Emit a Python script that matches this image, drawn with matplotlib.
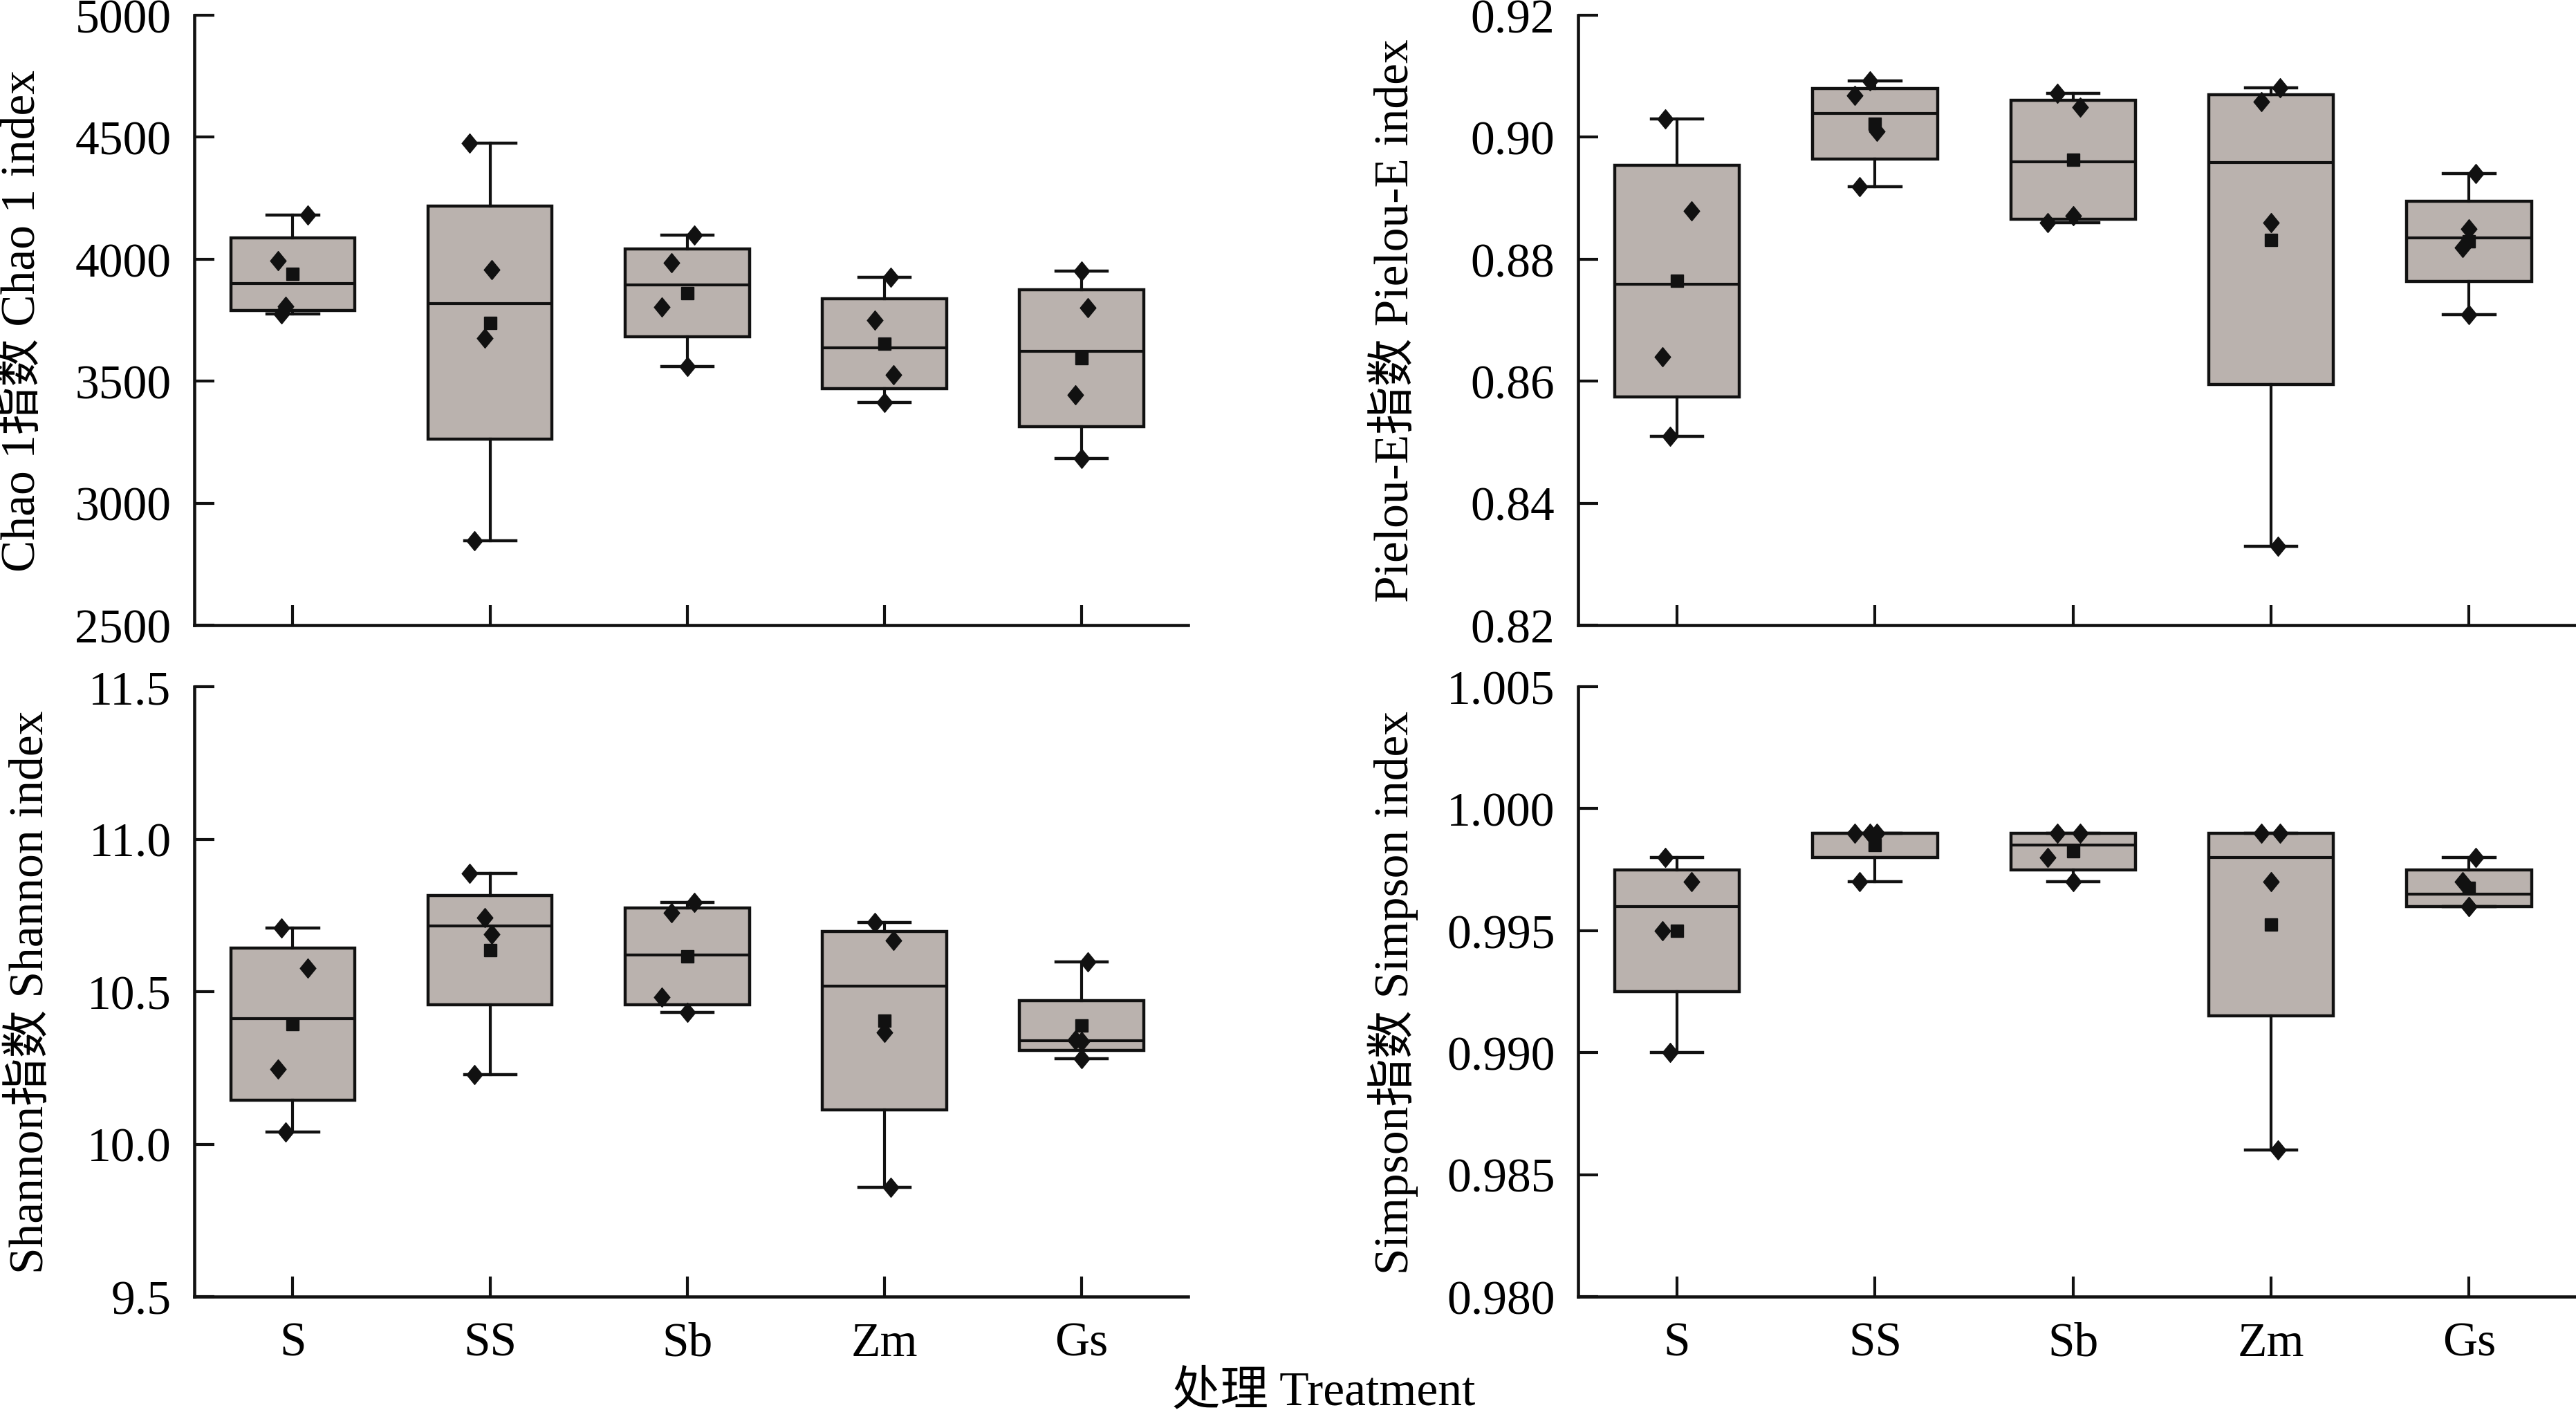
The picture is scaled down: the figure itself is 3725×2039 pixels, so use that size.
import numpy as np
import matplotlib.pyplot as plt
from matplotlib.path import Path

plt.rcParams['font.family'] = ['Liberation Serif', 'Noto Sans CJK SC']
plt.rcParams['font.size'] = 50

# Data: 4 samples per treatment, sample order fixed across indices
treatments = ['S', 'SS', 'Sb', 'Zm', 'Gs']

chao1 = [[3775, 4181, 3995, 3807],
         [3677, 4476, 3958, 2847],
         [3984, 4099, 3559, 3804],
         [3526, 3750, 3413, 3925],
         [3802, 3950, 3443, 3182]]

pielou = [[0.9030, 0.8879, 0.8640, 0.8509],
          [0.9092, 0.9068, 0.9009, 0.8919],
          [0.9072, 0.9049, 0.8871, 0.8860],
          [0.9081, 0.9058, 0.8860, 0.8329],
          [0.8940, 0.8850, 0.8819, 0.8709]]

shannon = [[10.708, 10.578, 10.247, 10.039],
           [10.742, 10.889, 10.688, 10.227],
           [10.758, 10.792, 10.433, 10.481],
           [10.669, 10.727, 10.367, 9.859],
           [10.598, 10.279, 10.341, 10.337]]

simpson = [[0.998, 0.997, 0.995, 0.990],
           [0.999, 0.999, 0.999, 0.997],
           [0.999, 0.999, 0.997, 0.998],
           [0.999, 0.999, 0.997, 0.986],
           [0.998, 0.996, 0.997, 0.996]]

# horizontal scatter offsets of the sample points (per sample)
jitter = [[-0.058, 0.074, -0.074, -0.037],
          [-0.025, -0.103, 0.008, -0.079],
          [-0.079, 0.037, 0.0, -0.128],
          [0.045, -0.05, 0.0, 0.033],
          [0.033, 0.0, -0.033, 0.0]]

panels = [
    (chao1, 'Chao 1指数 Chao 1 index', (2500, 5000), np.arange(2500, 5001, 500), '{:.0f}'),
    (pielou, 'Pielou-E指数 Pielou-E index', (0.82, 0.92), np.arange(0.82, 0.9201, 0.02), '{:.2f}'),
    (shannon, 'Shannon指数 Shannon index', (9.5, 11.5), np.arange(9.5, 11.501, 0.5), '{:.1f}'),
    (simpson, 'Simpson指数 Simpson index', (0.980, 1.005), np.arange(0.980, 1.00501, 0.005), '{:.3f}'),
]

# axes rectangles in figure fraction
rects = [(0.0754, 0.5564, 0.3858, 0.4323),
         (0.6126, 0.5564, 0.3874, 0.4323),
         (0.0754, 0.0804, 0.3858, 0.4323),
         (0.6126, 0.0804, 0.3874, 0.4323)]
label_x = [-0.150, -0.160, -0.142, -0.160]

diamond = Path([(0, 1), (0.82, 0), (0, -1), (-0.82, 0), (0, 1)],
               [Path.MOVETO, Path.LINETO, Path.LINETO, Path.LINETO, Path.CLOSEPOLY])


def hinge_stats(vals):
    v = np.sort(np.asarray(vals, dtype=float))
    half = len(v) // 2
    return dict(med=np.median(v), q1=np.median(v[:half]), q3=np.median(v[-half:]),
                whislo=v[0], whishi=v[-1], mean=np.mean(v), fliers=[])


fig = plt.figure(figsize=(37.25, 20.4), dpi=100)
pos = np.arange(1, len(treatments) + 1)

for i, (data, ylabel, ylim, yticks, fmt) in enumerate(panels):
    ax = fig.add_axes(rects[i])
    stats = [hinge_stats(d) for d in data]
    ax.bxp(stats, positions=pos, widths=0.63, capwidths=0.26, patch_artist=True,
           showmeans=True, showfliers=False,
           boxprops=dict(facecolor='#BAB2AE', edgecolor='#111111', linewidth=3.2),
           medianprops=dict(color='#111111', linewidth=3.0),
           whiskerprops=dict(color='#111111', linewidth=3.0),
           capprops=dict(color='#111111', linewidth=3.2),
           meanprops=dict(marker='s', markerfacecolor='#111111', markeredgecolor='#111111',
                          markersize=13.5))
    for k, d in enumerate(data):
        ax.plot(pos[k] + np.array(jitter[k]), d, linestyle='none', marker=diamond,
                markersize=20, color='#111111', zorder=5)

    ax.set_xlim(0.5, 5.54)
    ax.set_ylim(*ylim)
    ax.set_yticks(yticks)
    ax.set_yticklabels([fmt.format(t) for t in yticks])
    ax.set_xticks(pos)
    if i >= 2:
        ax.set_xticklabels(treatments)
    else:
        ax.set_xticklabels([])
    ax.set_ylabel(ylabel, fontsize=50)
    ax.yaxis.set_label_coords(label_x[i], 0.5)

    for s in ['top', 'right']:
        ax.spines[s].set_visible(False)
    for s in ['left', 'bottom']:
        ax.spines[s].set_linewidth(3.3)
        ax.spines[s].set_color('#111111')
    ax.tick_params(direction='in', length=21, width=3, color='#111111', labelsize=50)
    ax.tick_params(axis='y', pad=24)
    ax.tick_params(axis='x', pad=26)

fig.text(0.5138, 0.004, '处理 Treatment', ha='center', va='baseline', fontsize=50)

fig.savefig('out.png', dpi=100)
